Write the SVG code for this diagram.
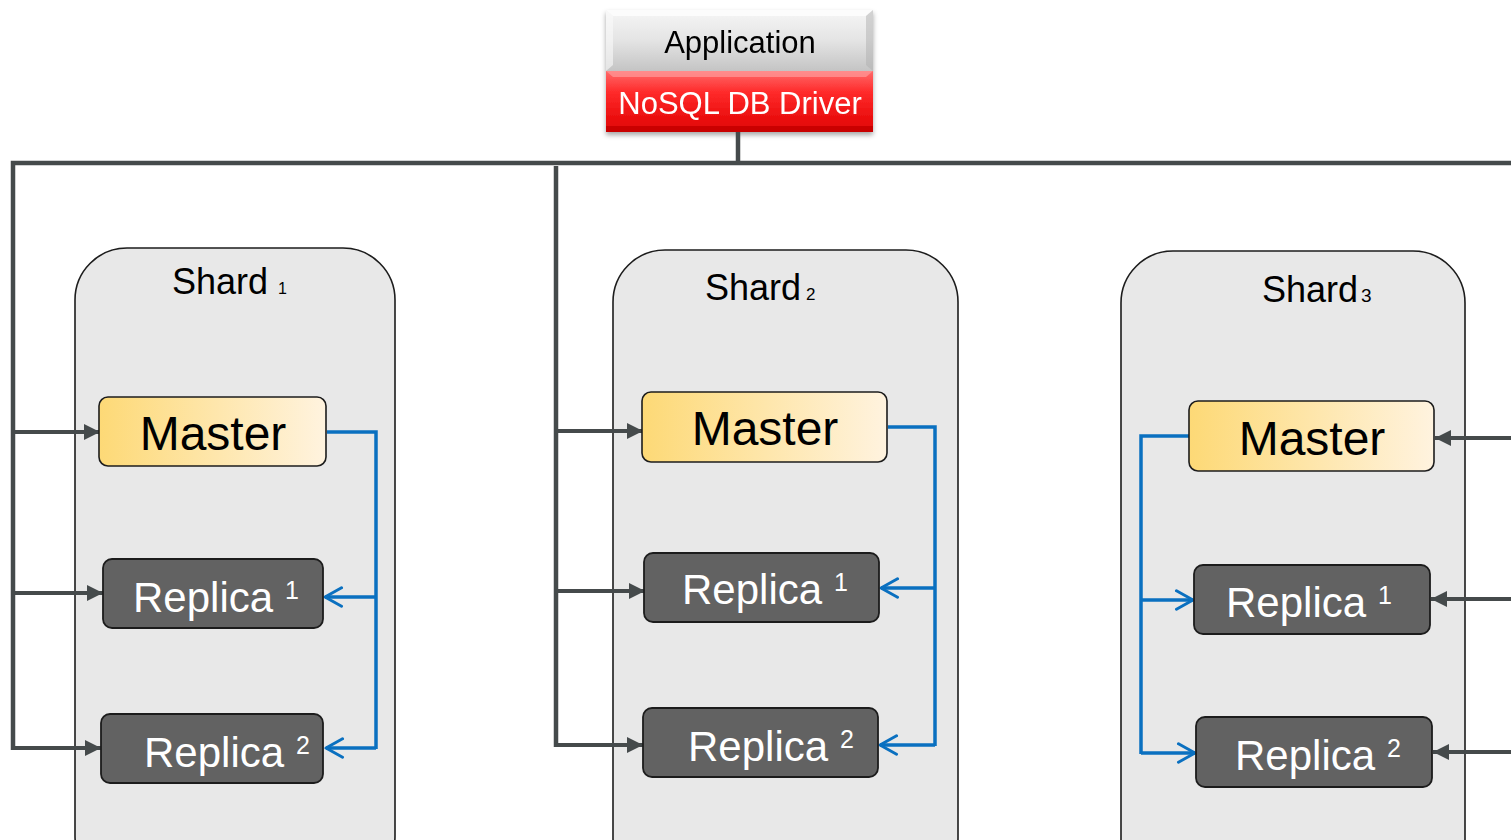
<svg xmlns="http://www.w3.org/2000/svg" width="1511" height="840" viewBox="0 0 1511 840">
  <style>
    .shard { fill: #e8e8e8; stroke: #1c1c1c; stroke-width: 1.6; }
    .master { fill: url(#masterFill); stroke: #1c1c1c; stroke-width: 1.6; }
    .replica { fill: #626262; stroke: #1c1c1c; stroke-width: 1.8; }
    .bus { fill: none; stroke: #454a4b; stroke-width: 4.5; stroke-linejoin: miter; }
    .feed { fill: none; stroke: #454a4b; stroke-width: 4; marker-end: url(#solidHead); }
    .sync { fill: none; stroke: #0a70c0; stroke-width: 3.5; }
    .syncArrow { fill: none; stroke: #0a70c0; stroke-width: 3.5; marker-end: url(#openHead); }
    .title { font-family: "Liberation Sans", Arial, sans-serif; font-size: 36px; fill: #000; }
    .master-label { font-family: "Liberation Sans", Arial, sans-serif; font-size: 48px; fill: #000; text-anchor: middle; }
    .replica-label { font-family: "Liberation Sans", Arial, sans-serif; font-size: 42px; fill: #fff; }
    .app-label { font-family: "Liberation Sans", Arial, sans-serif; font-size: 31px; fill: #000; text-anchor: middle; }
    .drv-label { font-family: "Liberation Sans", Arial, sans-serif; font-size: 31px; fill: #fff; text-anchor: middle; }
  </style>
  <defs>
    <linearGradient id="masterFill" x1="0" y1="0" x2="1" y2="0">
      <stop offset="0" stop-color="#fdd976"/>
      <stop offset="1" stop-color="#fff3df"/>
    </linearGradient>
    <linearGradient id="appFill" x1="0" y1="0" x2="0" y2="1">
      <stop offset="0" stop-color="#f6f6f6"/>
      <stop offset="0.5" stop-color="#e4e4e4"/>
      <stop offset="1" stop-color="#c4c4c4"/>
    </linearGradient>
    <linearGradient id="drvFill" x1="0" y1="0" x2="0" y2="1">
      <stop offset="0" stop-color="#ff6a6a"/>
      <stop offset="0.35" stop-color="#ff2a2a"/>
      <stop offset="1" stop-color="#e00000"/>
    </linearGradient>
    <filter id="softShadow" x="-10%" y="-10%" width="120%" height="130%">
      <feDropShadow dx="0" dy="3" stdDeviation="2.5" flood-color="#000" flood-opacity="0.35"/>
    </filter>
    <marker id="solidHead" viewBox="0 0 10 10" refX="10" refY="5" markerWidth="4" markerHeight="4" orient="auto" markerUnits="strokeWidth">
      <path d="M0,0 L10,5 L0,10 z" fill="#454a4b"/>
    </marker>
    <marker id="openHead" viewBox="0 0 12 12" refX="10.5" refY="6" markerWidth="6.3" markerHeight="6.3" orient="auto" markerUnits="strokeWidth">
      <path d="M1.5,1 L10.5,6 L1.5,11" fill="none" stroke="#0a70c0" stroke-width="1.6" stroke-linecap="round" stroke-linejoin="round"/>
    </marker>
  </defs>

  <!-- client stack: application over driver -->
  <g id="client" filter="url(#softShadow)">
    <g id="application">
      <rect x="606" y="10" width="267" height="61" fill="url(#appFill)"/>
      <path d="M606,10 L873,10 L866,16 L613,16 Z" fill="#ffffff" opacity="0.7"/>
      <path d="M606,10 L613,16 L613,65 L606,71 Z" fill="#fafafa" opacity="0.6"/>
      <path d="M873,10 L866,16 L866,65 L873,71 Z" fill="#b0b0b0" opacity="0.5"/>
      <text class="app-label" x="740" y="53">Application</text>
    </g>
    <g id="driver">
      <rect x="606" y="71" width="267" height="61" fill="url(#drvFill)"/>
      <path d="M606,71 L873,71 L866,77 L613,77 Z" fill="#ff9a9a" opacity="0.7"/>
      <path d="M606,126 L873,126 L873,132 L606,132 Z" fill="#b00000" opacity="0.5"/>
      <text class="drv-label" x="740" y="114">NoSQL DB Driver</text>
    </g>
  </g>

  <!-- shard containers -->
  <g id="shard1">
    <rect class="shard" x="75" y="248" width="320" height="640" rx="52"/>
    <text class="title" x="172" y="294">Shard<tspan font-size="16" dx="10">1</tspan></text>
  </g>
  <g id="shard2">
    <rect class="shard" x="613" y="250" width="345" height="640" rx="52"/>
    <text class="title" x="705" y="300">Shard<tspan font-size="17" dx="5">2</tspan></text>
  </g>
  <g id="shard3">
    <rect class="shard" x="1121" y="251" width="344" height="640" rx="52"/>
    <text class="title" x="1262" y="302">Shard<tspan font-size="19" dx="3">3</tspan></text>
  </g>

  <!-- connectors -->
  <g id="connectors">
    <!-- driver to bus -->
    <path class="bus" d="M738,132 L738,163"/>
    <!-- main bus -->
    <path class="bus" d="M13,750 L13,163 L1511,163"/>
    <path class="bus" d="M556,166 L556,747"/>
    <!-- feeds into shard 1 -->
    <path class="feed" d="M13,432 L100,432"/>
    <path class="feed" d="M13,593 L103,593"/>
    <path class="feed" d="M13,748 L101,748"/>
    <!-- feeds into shard 2 -->
    <path class="feed" d="M556,431 L643,431"/>
    <path class="feed" d="M556,591 L645,591"/>
    <path class="feed" d="M556,745 L643,745"/>
    <!-- feeds into shard 3 from the right -->
    <path class="feed" d="M1511,438 L1435,438"/>
    <path class="feed" d="M1511,599 L1431,599"/>
    <path class="feed" d="M1511,752 L1433,752"/>

    <!-- replication, shard 1 -->
    <path class="sync" d="M327,432 L376,432 L376,749"/>
    <path class="syncArrow" d="M376,597 L325,597"/>
    <path class="syncArrow" d="M376,748 L326,748"/>
    <!-- replication, shard 2 -->
    <path class="sync" d="M888,427 L935,427 L935,746"/>
    <path class="syncArrow" d="M935,588 L881,588"/>
    <path class="syncArrow" d="M935,745 L880,745"/>
    <!-- replication, shard 3 -->
    <path class="sync" d="M1189,436 L1141,436 L1141,754"/>
    <path class="syncArrow" d="M1141,600 L1193,600"/>
    <path class="syncArrow" d="M1141,753 L1195,753"/>
  </g>

  <!-- shard 1 nodes -->
  <g id="master1">
    <rect class="master" x="99" y="397" width="227" height="69" rx="9"/>
    <text class="master-label" x="213" y="450">Master</text>
  </g>
  <g id="replica1-1">
    <rect class="replica" x="103" y="559" width="220" height="69" rx="9"/>
    <text class="replica-label" x="133" y="612">Replica<tspan font-size="25" dx="12" dy="-13">1</tspan></text>
  </g>
  <g id="replica1-2">
    <rect class="replica" x="101" y="714" width="222" height="69" rx="9"/>
    <text class="replica-label" x="144" y="767">Replica<tspan font-size="25" dx="12" dy="-13">2</tspan></text>
  </g>

  <!-- shard 2 nodes -->
  <g id="master2">
    <rect class="master" x="642" y="392" width="245" height="70" rx="9"/>
    <text class="master-label" x="765" y="445">Master</text>
  </g>
  <g id="replica2-1">
    <rect class="replica" x="644" y="553" width="235" height="69" rx="9"/>
    <text class="replica-label" x="682" y="604">Replica<tspan font-size="25" dx="12" dy="-13">1</tspan></text>
  </g>
  <g id="replica2-2">
    <rect class="replica" x="643" y="708" width="235" height="69" rx="9"/>
    <text class="replica-label" x="688" y="761">Replica<tspan font-size="25" dx="12" dy="-13">2</tspan></text>
  </g>

  <!-- shard 3 nodes -->
  <g id="master3">
    <rect class="master" x="1189" y="401" width="245" height="70" rx="9"/>
    <text class="master-label" x="1312" y="455">Master</text>
  </g>
  <g id="replica3-1">
    <rect class="replica" x="1194" y="565" width="236" height="69" rx="9"/>
    <text class="replica-label" x="1226" y="617">Replica<tspan font-size="25" dx="12" dy="-13">1</tspan></text>
  </g>
  <g id="replica3-2">
    <rect class="replica" x="1196" y="717" width="236" height="70" rx="9"/>
    <text class="replica-label" x="1235" y="770">Replica<tspan font-size="25" dx="12" dy="-13">2</tspan></text>
  </g>
</svg>
